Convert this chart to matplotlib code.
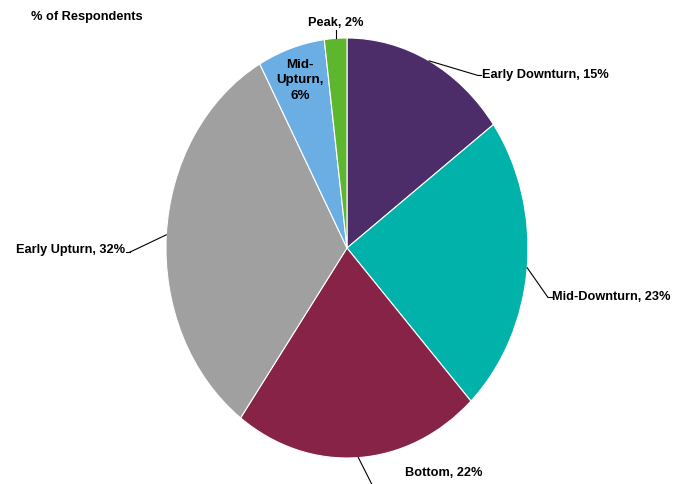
import numpy as np
import matplotlib
matplotlib.use("Agg")
import matplotlib.pyplot as plt

plt.rcParams['font.family'] = ['Liberation Sans', 'DejaVu Sans']
plt.rcParams['font.weight'] = 'bold'

phases = ["Early Downturn", "Mid-Downturn", "Bottom", "Early Upturn", "Mid-Upturn", "Peak"]
shares = [15, 23, 22, 32, 6, 2]
colors = ["#4C2D69", "#00B2A9", "#872346", "#A0A0A0", "#6AAEE4", "#5DB62E"]

fig = plt.figure(figsize=(6.85, 4.84), dpi=100)
ax = fig.add_axes([0.2423, 0.0537, 0.5285, 0.8678])

wedges, _ = ax.pie(shares, colors=colors, startangle=90, counterclock=False,
                   radius=1.0, wedgeprops=dict(edgecolor='white', linewidth=0.8))
ax.set_xlim(-1, 1)
ax.set_ylim(-1, 1)
ax.set_aspect('auto')
ax.axis('off')

FS = 9.2

def mid_angle(w):
    return np.deg2rad((w.theta1 + w.theta2) / 2)

# outside labels: (elbow point, text anchor, horizontal alignment)
outside = {
    "Early Downturn": ((0.722, 0.822), (0.745, 0.822), 'left'),
    "Mid-Downturn": ((1.11, -0.235), (1.135, -0.235), 'left'),
    "Bottom": ((0.146, -1.14), (0.32, -1.07), 'left'),
    "Early Upturn": ((-1.20, -0.02), (-1.225, -0.01), 'right'),
}

for w, name, val in zip(wedges, phases, shares):
    a = mid_angle(w)
    ex, ey = np.cos(a), np.sin(a)
    label = f"{name}, {val}%"
    if name in outside:
        (kx, ky), (tx, ty), ha = outside[name]
        ax.plot([ex, kx], [ey, ky], color='black', lw=0.8, clip_on=False)
        if name != "Bottom":
            ax.plot([kx, tx - 0.005 if ha == 'left' else tx + 0.005], [ky, ky],
                    color='black', lw=0.8, clip_on=False)
        ax.text(tx, ty, label, ha=ha, va='center', fontsize=FS, fontweight='bold')
    elif name == "Peak":
        ax.plot([ex, ex], [ey, 1.04], color='black', lw=0.8, clip_on=False)
        ax.text(ex, 1.045, label, ha='center', va='bottom', fontsize=FS, fontweight='bold')
    else:
        r = 0.84
        ax.text(r * ex, r * ey, f"Mid-\nUpturn,\n{val}%", ha='center', va='center',
                fontsize=9.6, fontweight='bold', linespacing=1.4)

fig.text(31 / 685, 1 - 17 / 484, "% of Respondents", ha='left', va='center',
         fontsize=FS, fontweight='bold')

fig.savefig("out.png", dpi=100, facecolor='white')
